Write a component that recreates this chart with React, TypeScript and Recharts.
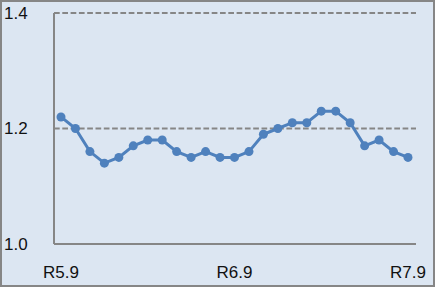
import React from 'react';
import { LineChart, Line, XAxis, YAxis, CartesianGrid } from 'recharts';

// monthly labels, R5.9 .. R7.9
const months = [
  'R5.9', 'R5.10', 'R5.11', 'R5.12',
  'R6.1', 'R6.2', 'R6.3', 'R6.4', 'R6.5', 'R6.6', 'R6.7', 'R6.8', 'R6.9', 'R6.10', 'R6.11', 'R6.12',
  'R7.1', 'R7.2', 'R7.3', 'R7.4', 'R7.5', 'R7.6', 'R7.7', 'R7.8', 'R7.9',
];
const values = [
  1.22, 1.2, 1.16, 1.14, 1.15, 1.17, 1.18, 1.18, 1.16, 1.15, 1.16, 1.15, 1.15,
  1.16, 1.19, 1.2, 1.21, 1.21, 1.23, 1.23, 1.21, 1.17, 1.18, 1.16, 1.15,
];
const yTicks = [1.0, 1.2, 1.4];

const data = months.map((m, i) => ({ month: m, value: values[i] }));

const FONT = '"Liberation Sans", Arial, sans-serif';
const GRAY = '#868686';
const BLUE = '#4f81bd';

const YTick = (props: any) => {
  const { y, payload } = props;
  return (
    <text x={2} y={y} textAnchor="start" dominantBaseline="central" fontFamily={FONT} fontSize={17} fill="#111">
      {Number(payload.value).toFixed(1)}
    </text>
  );
};

export default function App() {
  return (
    <div style={{ position: 'absolute', left: 0, top: 0 }}>
      <div
        style={{
          width: 435,
          height: 287,
          boxSizing: 'border-box',
          border: `2px solid ${GRAY}`,
          background: '#dce6f2',
        }}
      >
        <LineChart width={431} height={283} data={data} margin={{ top: 11, right: 17, bottom: 11, left: 0 }}>
          <CartesianGrid vertical={false} stroke={GRAY} strokeWidth={2} strokeDasharray="5.7 2.6" />
          <XAxis
            dataKey="month"
            interval={11}
            padding={{ left: 7, right: 8 }}
            height={30}
            tickSize={0}
            tickMargin={22}
            tickLine={false}
            axisLine={{ stroke: GRAY, strokeWidth: 2 }}
            tick={{ fontFamily: FONT, fontSize: 17, fill: '#111' }}
          />
          <YAxis
            width={52}
            domain={[1.0, 1.4]}
            ticks={yTicks}
            tickLine={false}
            axisLine={{ stroke: GRAY, strokeWidth: 2 }}
            tick={<YTick />}
          />
          <Line
            type="linear"
            dataKey="value"
            stroke={BLUE}
            strokeWidth={3}
            dot={{ r: 4.5, fill: BLUE, stroke: BLUE, strokeWidth: 0 }}
            isAnimationActive={false}
          />
        </LineChart>
      </div>
    </div>
  );
}
